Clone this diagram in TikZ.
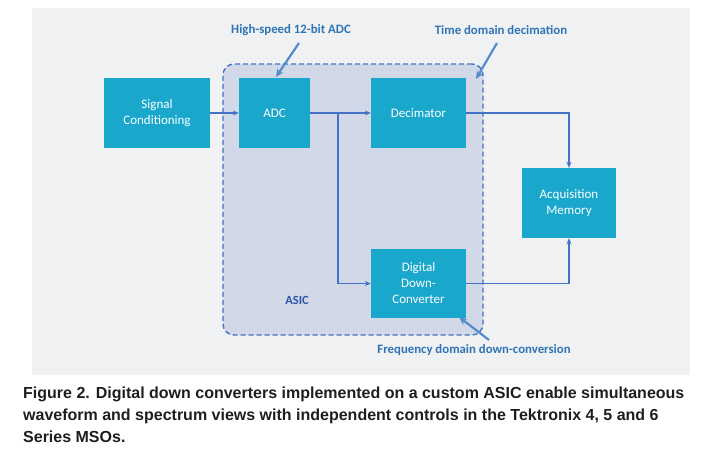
\documentclass[tikz,border=0pt]{standalone}
\usepackage{fontspec}
\setmainfont{Carlito}
\newfontfamily\capfont{Liberation Sans}
\usetikzlibrary{arrows.meta,positioning,calc}
\definecolor{boxteal}{RGB}{25,167,204}
\definecolor{panelgray}{RGB}{240,241,242}
\definecolor{asicfill}{RGB}{209,217,232}
\definecolor{lineblue}{RGB}{68,114,196}
\definecolor{calloutblue}{RGB}{83,140,205}
\definecolor{labelblue}{RGB}{47,117,181}
\definecolor{asicblue}{RGB}{47,85,170}
\definecolor{captext}{RGB}{30,30,30}

\begin{document}
\begin{tikzpicture}[x=1pt,y=-1pt,font=\fontsize{13}{16}\selectfont,>={Stealth[length=6pt,width=5pt]}]
  \tikzset{
    block/.style={fill=boxteal,text=white,align=center,inner sep=0pt},
    flow/.style={draw=lineblue,line width=1.1pt,->},
    callout/.style={draw=calloutblue,line width=2.2pt,-{Stealth[length=8pt,width=7pt]}},
    note/.style={text=labelblue,font=\fontsize{12.8}{15}\selectfont\bfseries,inner sep=0pt},
    caption/.style={anchor=base west,inner sep=0pt,text=captext,font=\capfont\fontsize{16}{22}\selectfont\bfseries}
  }
  \useasboundingbox (0,0) rectangle (714,450);
  \fill[panelgray] (32,8) rectangle (690,375);
  % ASIC region
  \node[draw=lineblue,fill=asicfill,line width=1.4pt,dash pattern=on 5pt off 3pt,rounded corners=11pt,
        minimum width=260pt,minimum height=271pt,inner sep=0pt] (asic) at (353,199.5) {};
  \node[text=asicblue,font=\fontsize{12.5}{14}\selectfont\bfseries] (asiclbl) at (297,300) {ASIC};
  % blocks
  \node[block,minimum width=106pt,minimum height=70pt] (sig) at (157,113) {Signal\\Conditioning};
  \node[block,minimum width=71pt,minimum height=70pt] (adc) at (274.5,113) {ADC};
  \node[block,minimum width=95pt,minimum height=70pt] (dec) at (418.5,113) {Decimator};
  \node[block,minimum width=95pt,minimum height=69pt] (ddc) at (418.5,283.5) {Digital\\Down-\\Converter};
  \node[block,minimum width=94pt,minimum height=70pt] (acq) at (569,203) {Acquisition\\Memory};
  % signal flow
  \coordinate (br) at (338,113);
  \draw[flow] (sig.east) -- (adc.west);
  \draw[flow] (adc.east) -- (dec.west);
  \draw[flow] (br) |- (ddc.west);
  \draw[flow] (dec.east) -| (acq.north);
  \draw[flow] (ddc.east) -| (acq.south);
  % callouts
  \node[note] (hsadc) at (291,30) {High-speed 12-bit ADC};
  \node[note] (tdd) at (501,30) {Time domain decimation};
  \node[note] (fdd) at (474,350) {Frequency domain down-conversion};
  \coordinate (hsadcfoot) at (299,43);
  \coordinate (adctip) at (276,77);
  \coordinate (tddfoot) at (497,43);
  \coordinate (dectip) at (476,79);
  \coordinate (fddfoot) at (489,340);
  \coordinate (ddctip) at (459,317);
  \draw[callout] (hsadcfoot) -- (adctip);
  \draw[callout] (tddfoot) -- (dectip);
  \draw[callout] (fddfoot) -- (ddctip);
  % caption
  \node[caption] (cap1) at (23,398) {Figure 2. Digital down converters implemented on a custom ASIC enable simultaneous};
  \node[caption] (cap2) at (23,420) {waveform and spectrum views with independent controls in the Tektronix 4, 5 and 6};
  \node[caption] (cap3) at (23,442) {Series MSOs.};
\end{tikzpicture}
\end{document}
